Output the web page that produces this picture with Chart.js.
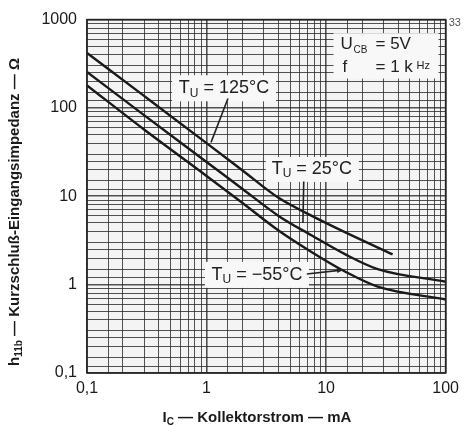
<!DOCTYPE html>
<html>
<head>
<meta charset="utf-8">
<script src="https://cdn.jsdelivr.net/npm/chart.js@4/dist/chart.umd.min.js"></script>
<style>
  html, body { margin:0; padding:0; background:#fff; }
  #wrap { width:465px; height:427px; }
</style>
</head>
<body>
<div id="wrap"><canvas id="graph" width="465" height="427"></canvas></div>
<script>
// values (I_C in mA, h11b in Ohm)
var curr125 = [0.1, 0.3, 1, 2, 4, 7.6, 14.5, 36];
var imp125  = [420, 137, 40, 19.6, 9.6, 6.0, 3.9, 2.2];
var curr25  = [0.1, 0.3, 1, 2, 4, 7.6, 14.5, 27, 100];
var imp25   = [255, 83, 24.5, 12.1, 6.0, 3.6, 2.2, 1.5, 1.08];
var currM55 = [0.1, 0.3, 1, 2, 4, 7.6, 14.5, 27, 100];
var impM55  = [180, 57, 17, 8.4, 4.1, 2.33, 1.4, 0.95, 0.68];
var xTickVals = [0.1, 1, 10, 100];
var yTickVals = [0.1, 1, 10, 100, 1000];
var tickNames = {"0.1":"0,1", "1":"1", "10":"10", "100":"100", "1000":"1000"};

var xSteps = [1, 1.5, 2, 3, 4, 5, 6, 7, 8, 9];
var ySteps = [1, 1.2, 1.5, 2, 2.5, 3, 4, 5, 6, 7, 8, 9];

function pts(xs, ys){
  var a = [];
  for (var i=0;i<xs.length;i++) a.push({x:xs[i], y:ys[i]});
  return a;
}
function logTicks(scale, steps){
  var t = [];
  var d0 = Math.round(Math.log10(scale.min)), d1 = Math.round(Math.log10(scale.max));
  for (var d=d0; d<=d1; d++){
    for (var s=0;s<steps.length;s++){
      var v = steps[s]*Math.pow(10,d);
      if (v <= scale.max*1.0001) t.push({value:v, major: steps[s]===1});
    }
  }
  scale.ticks = t;
}
function isDecade(v){
  var l = Math.log10(v);
  return Math.abs(l-Math.round(l)) < 1e-6;
}
function label(v){
  if (!isDecade(v)) return '';
  var k = String(+v.toPrecision(3));
  return tickNames[k] || '';
}

var lineDs = function(xs, ys){
  return {
    data: pts(xs, ys), showLine:true, borderColor:'#1a1a1a', borderWidth:2.4,
    pointRadius:0, fill:false, cubicInterpolationMode:'monotone'
  };
};

var FONT = '"Liberation Sans", Arial, sans-serif';

var decor = {
  id:'decor',
  beforeDraw: function(c){
    var a = c.chartArea, g = c.ctx;
    g.save(); g.fillStyle = '#f4f4f4';
    g.fillRect(a.left, a.top, a.right-a.left, a.bottom-a.top);
    g.restore();
  },
  afterDatasetsDraw: function(c){
    var g = c.ctx, xs = c.scales.x, ys = c.scales.y, a = c.chartArea;
    function X(v){ return xs.getPixelForValue(v); }
    function Y(v){ return ys.getPixelForValue(v); }
    g.save();
    g.strokeStyle = '#222'; g.lineWidth = 1.6;
    g.strokeRect(a.left, a.top, a.right-a.left, a.bottom-a.top);

    function box(x0,y0,x1,y1){
      g.fillStyle = '#f8f8f8';
      g.fillRect(x0,y0,x1-x0,y1-y0);
    }
    function tLabel(txt, cx, cy){
      g.fillStyle = '#222';
      g.textBaseline = 'middle';
      g.font = '18px ' + FONT;
      var wT = g.measureText('T').width;
      g.font = '12px ' + FONT;
      var wU = g.measureText('U').width;
      g.font = '18px ' + FONT;
      var wR = g.measureText(txt).width;
      var w = wT + wU + wR, x = cx - w/2;
      g.textAlign = 'left';
      g.fillText('T', x, cy);
      g.font = '12px ' + FONT;
      g.fillText('U', x+wT, cy+5);
      g.font = '18px ' + FONT;
      g.fillText(txt, x+wT+wU, cy);
      return w;
    }
    function lead(x0,y0,x1,y1,arrow){
      g.strokeStyle = '#222'; g.lineWidth = 1.6;
      g.beginPath(); g.moveTo(x0,y0); g.lineTo(x1,y1); g.stroke();
      if (arrow){
        var ang = Math.atan2(y1-y0, x1-x0);
        g.fillStyle = '#222';
        g.beginPath(); g.moveTo(x1,y1);
        g.lineTo(x1-7*Math.cos(ang-0.35), y1-7*Math.sin(ang-0.35));
        g.lineTo(x1-7*Math.cos(ang+0.35), y1-7*Math.sin(ang+0.35));
        g.closePath(); g.fill();
      }
    }
    var cx, cy;
    // 125 °C
    cx = X(1.4); cy = Y(167);
    box(cx-52, cy-13, cx+52, cy+13);
    tLabel(' = 125°C', cx, cy);
    lead(X(1.51), Y(128), X(1.09), Y(40.8), false);
    // 25 °C
    cx = X(7.6); cy = Y(20.4);
    box(cx-46, cy-12, cx+47, cy+13);
    tLabel(' = 25°C', cx, cy);
    lead(X(6.5), Y(14.7), X(6.4), Y(5.0), false);
    // -55 °C
    cx = X(2.64); cy = Y(1.29);
    box(cx-52, cy-13, cx+52, cy+13);
    tLabel(' = \u221255°C', cx, cy);
    lead(X(6.9), Y(1.32), X(14.0), Y(1.47), true);

    // conditions
    var lx = X(13.2);
    box(lx-7, Y(527)-11, lx+98, Y(287)+11);
    g.fillStyle = '#222'; g.textAlign='left'; g.textBaseline='middle';
    g.font = '17px ' + FONT;
    g.fillText('U', lx, Y(527));
    g.font = '10px ' + FONT;
    g.fillText('CB', lx+13, Y(527)+6);
    g.font = '17px ' + FONT;
    g.fillText('= 5V', lx+35, Y(527));
    g.fillText('f', lx+2, Y(287));
    g.fillText('= 1 k', lx+35, Y(287));
    g.font = '11px ' + FONT;
    g.fillText('Hz', lx+76, Y(287)-2);

    // corner mark
    g.font = '11px ' + FONT;
    g.fillStyle = '#555';
    g.fillText('33', a.right+3, a.top+3);

    // axis titles
    g.fillStyle = '#1a1a1a';
    g.font = 'bold 15px ' + FONT;
    var xt1 = ' \u2014 Kollektorstrom \u2014 mA';
    var wI = g.measureText('I').width;
    g.font = 'bold 10px ' + FONT;
    var wC = g.measureText('C').width;
    g.font = 'bold 15px ' + FONT;
    var wx = wI + wC + g.measureText(xt1).width;
    var x0 = 257 - wx/2, yb = 418;
    g.fillText('I', x0, yb);
    g.font = 'bold 10px ' + FONT;
    g.fillText('C', x0+wI, yb+4);
    g.font = 'bold 15px ' + FONT;
    g.fillText(xt1, x0+wI+wC, yb);

    g.translate(15, 212);
    g.rotate(-Math.PI/2);
    var yt1 = ' \u2014 Kurzschlu\u00df-Eingangsimpedanz \u2014 \u03a9';
    var wh = g.measureText('h').width;
    g.font = 'bold 10px ' + FONT;
    var ws = g.measureText('11b').width;
    g.font = 'bold 15px ' + FONT;
    var wy = wh + ws + g.measureText(yt1).width;
    var y0 = -wy/2;
    g.fillText('h', y0, 0);
    g.font = 'bold 10px ' + FONT;
    g.fillText('11b', y0+wh, 4);
    g.font = 'bold 15px ' + FONT;
    g.fillText(yt1, y0+wh+ws, 0);
    g.restore();
  }
};

new Chart("graph", {
  type: "scatter",
  data: { datasets: [ lineDs(curr125, imp125), lineDs(curr25, imp25), lineDs(currM55, impM55) ] },
  plugins: [decor],
  options: {
    responsive:false, animation:false,
    layout: { padding: { top:13, right:17, left:0, bottom:0 } },
    plugins: { legend:{display:false}, tooltip:{enabled:false} },
    scales: {
      x: {
        type:'logarithmic', min:xTickVals[0], max:xTickVals[xTickVals.length-1],
        afterBuildTicks: function(s){ logTicks(s, xSteps); },
        afterFit: function(s){ s.height = 54; },
        border:{display:false},
        grid:{ color:'rgba(40,40,40,0.8)', lineWidth:function(ctx){ return ctx.tick && ctx.tick.major ? 1.6 : 1; }, drawTicks:false },
        ticks:{ autoSkip:false, maxRotation:0, padding:6, color:'#1a1a1a',
                font:{ family:FONT, size:16 },
                callback:function(v){ return label(v); } }
      },
      y: {
        type:'logarithmic', min:yTickVals[0], max:yTickVals[yTickVals.length-1],
        afterBuildTicks: function(s){ logTicks(s, ySteps); },
        afterFit: function(s){ s.width = 87; },
        border:{display:false},
        grid:{ color:'rgba(40,40,40,0.8)', lineWidth:function(ctx){ return ctx.tick && ctx.tick.major ? 1.6 : 1; }, drawTicks:false },
        ticks:{ autoSkip:false, padding:10, color:'#1a1a1a',
                font:{ family:FONT, size:16 },
                callback:function(v){ return label(v); } }
      }
    }
  }
});
</script>
</body>
</html>
